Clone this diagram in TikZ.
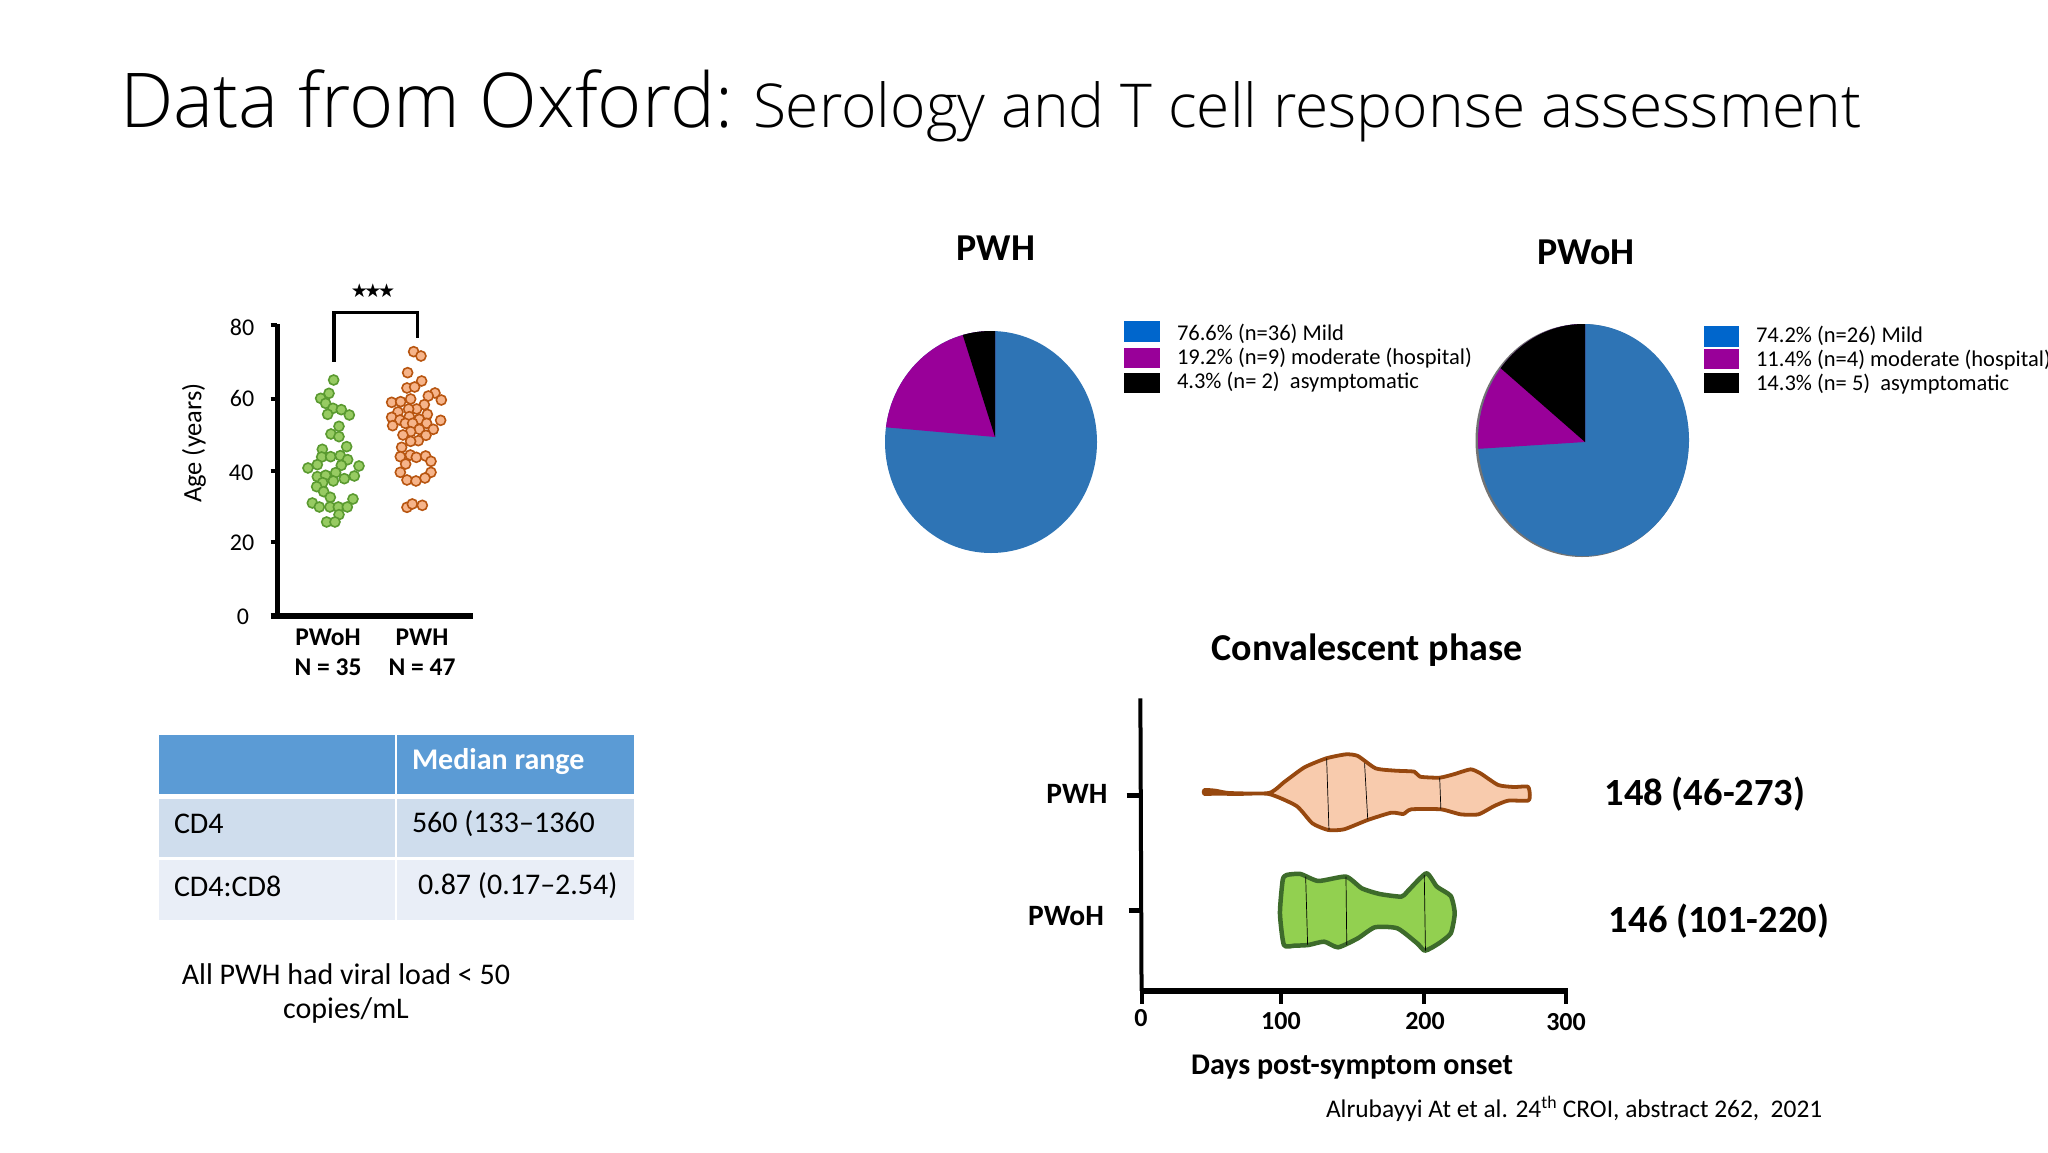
\documentclass[tikz,border=0pt]{standalone}
\usepackage{fontspec}
\setmainfont{Carlito}
\newfontfamily\symfont{DejaVu Sans}
\newfontfamily\lightfont{Open Sans Light}
\definecolor{pieblue}{HTML}{2E74B5}
\definecolor{legblue}{HTML}{0066CC}
\definecolor{piepurple}{HTML}{990099}
\definecolor{thead}{HTML}{5B9BD5}
\definecolor{trowa}{HTML}{CFDDED}
\definecolor{trowb}{HTML}{E9EEF7}
\definecolor{gfill}{HTML}{97CB62}
\definecolor{gline}{HTML}{5A9A30}
\definecolor{ofill}{HTML}{F6B48A}
\definecolor{oline}{HTML}{B85510}
\definecolor{vbrown}{HTML}{97480F}
\definecolor{vpeach}{HTML}{F8CBAD}
\definecolor{vgreen}{HTML}{92D050}
\definecolor{vdark}{HTML}{3D6B2B}
\newcommand{\fs}[2]{\fontsize{#1}{#2}\selectfont}
\tikzset{
  txt/.style={inner sep=0pt,outer sep=0pt},
  lab/.style={txt,font=\fs{24}{26}},
  blab/.style={txt,font=\fs{25.5}{28}\bfseries},
  vlab/.style={txt,font=\fs{29.5}{32}\bfseries},
  vnum/.style={txt,font=\fs{26}{28}\bfseries},
  leg/.style={txt,anchor=west,font=\fs{22.5}{24}},
  ptitle/.style={txt,font=\fs{38}{42}\bfseries},
  cell/.style={txt,anchor=west,font=\fs{30}{32}},
  gdot/.style={circle,draw=gline,fill=gfill,line width=1.6pt,inner sep=0pt,minimum size=10pt},
  odot/.style={circle,draw=oline,fill=ofill,line width=1.6pt,inner sep=0pt,minimum size=10pt},
}
\begin{document}
\begin{tikzpicture}[x=1pt,y=-1pt]
\useasboundingbox (0,0) rectangle (2048,1152);
\fill[white] (0,0) rectangle (2048,1152);
% title
\node[txt,anchor=base west,font=\lightfont\fs{75.6}{80},text=black] (t1) at (120,127) {Data from Oxford:};
\node[txt,anchor=base west,font=\lightfont\fs{60.5}{70},text=black] (t2) at (753,127) {Serology and T cell response assessment};

% dot plot
\begin{scope}[shift={(160,260)},x=0.3333pt,y=-0.3333pt]
\draw[line width=5.5pt] (352,192) -- (352,1068);
\draw[line width=6pt] (332,1068) -- (940,1068);
\foreach \yy in {195,418,632,845} \draw[line width=4pt] (332,\yy) -- (352,\yy);
\draw[line width=3.2pt] (522,305) -- (522,158) -- (773,158) -- (773,233);
\foreach \xx/\yy in {521/360,507/400,482/415,497/430,519/445,544/449,503/463,568/465,537/499,513/522,537/530,560/560,487/568,485/591,512/590,541/587,563/599,472/614,444/624,544/616,597/618,527/638,472/650,497/646,488/668,520/663,553/656,583/648,470/680,491/695,511/712,579/717,457/729,478/741,510/741,535/741,562/741,537/764,500/786,525/786}
  \node[gdot] at (\xx,\yy) {};
\foreach \xx/\yy in {761/275,783/288,743/338,785/363,741/384,764/381,825/399,805/408,752/417,844/420,695/427,722/425,793/434,770/447,746/447,714/456,802/463,695/472,748/470,720/480,778/478,842/481,800/490,736/490,758/490,698/497,778/508,820/508,752/515,729/525,798/526,775/542,752/544,725/562,721/590,751/585,769/592,797/588,813/604,737/612,721/637,813/637,795/654,741/660,768/663,741/742,757/732,787/736}
  \node[odot] at (\xx,\yy) {};
\end{scope}
\node[lab] (y80) at (242,327) {80};
\node[lab] (y60) at (242,398) {60};
\node[lab] (y40) at (241,473) {40};
\node[lab] (y20) at (242,543) {20};
\node[lab] (y0) at (243,617) {0};
\node[txt,font=\fs{26.5}{28},rotate=90] (yl) at (194,443) {Age (years)};
\node[blab] (g1) at (328,637) {PWoH};
\node[blab] (g2) at (328,667) {N = 35};
\node[blab] (g3) at (422,637) {PWH};
\node[blab] (g4) at (422,667) {N = 47};
\node[txt,font=\symfont\fs{19}{20}] (stars) at (373,291) {★\kern-3.5pt★\kern-3.5pt★};

% table
\fill[thead] (159,735) rectangle (395,794);
\fill[thead] (397,735) rectangle (634,794);
\fill[trowa] (159,799) rectangle (395,857);
\fill[trowa] (397,799) rectangle (634,857);
\fill[trowb] (159,860) rectangle (395,920);
\fill[trowb] (397,860) rectangle (634,920);
\node[cell,text=white,font=\fs{30}{32}\bfseries] (h2) at (412,762) {Median range};
\node[cell] (c1) at (174,824) {CD4};
\node[cell] (c2) at (412,824) {560 (133–1360};
\node[cell] (c3) at (174,886) {CD4:CD8};
\node[cell] (c4) at (418,886) {0.87 (0.17–2.54)};
\node[txt,font=\fs{30}{32}] (n1) at (346,974) {All PWH had viral load < 50};
\node[txt,font=\fs{30}{32}] (n2) at (346,1010) {copies/mL};

% pie PWH
\node[ptitle] (p1) at (996,248) {PWH};
\begin{scope}
\clip (991,442) ellipse [x radius=106pt,y radius=111pt];
\fill[pieblue] (880,325) rectangle (1100,560);
\fill[piepurple] (995,437) -- (860,425) -- (860,320) -- (995,320) -- cycle;
\fill[black] (995,437) -- (958,320) -- (995,320) -- cycle;
\end{scope}
\fill[legblue] (1124,321) rectangle (1160,342);
\fill[piepurple] (1124,348) rectangle (1160,368);
\fill[black] (1124,373) rectangle (1160,393);
\node[leg] (l1) at (1177,334) {76.6\% (n=36) Mild};
\node[leg] (l2) at (1177,358) {19.2\% (n=9) moderate (hospital)};
\node[leg] (l3) at (1177,382) {4.3\% (n= 2)\ \ asymptomatic};

% pie PWoH
\node[ptitle] (p2) at (1586,252) {PWoH};
\fill[black!55] (1582,440.5) ellipse [x radius=106.5pt,y radius=116.5pt];
\begin{scope}
\clip (1583.5,440) ellipse [x radius=105.5pt,y radius=116pt];
\fill[pieblue] (1470,320) rectangle (1695,560);
\fill[piepurple] (1585,442) -- (1460,450) -- (1460,320) -- (1585,320) -- cycle;
\fill[black] (1585,442) -- (1497,365) -- (1497,320) -- (1585,320) -- cycle;
\end{scope}
\fill[legblue] (1704,326) rectangle (1739,347);
\fill[piepurple] (1704,349) rectangle (1739,369);
\fill[black] (1704,373) rectangle (1739,393);
\node[leg] (l4) at (1756,336) {74.2\% (n=26) Mild};
\node[leg] (l5) at (1756,360) {11.4\% (n=4) moderate (hospital)};
\node[leg] (l6) at (1756,384) {14.3\% (n= 5)\ \ asymptomatic};

% violin
\node[ptitle] (vt) at (1367,650) {Convalescent phase};
\begin{scope}[shift={(1000,680)},x=0.3954pt,y=-0.3333pt]
\draw[line width=4pt] (355,55) -- (358,933);
\draw[line width=6pt] (355,933) -- (1437,933);
\foreach \xx in {358,710,1073,1432} \draw[line width=4pt] (\xx,933) -- (\xx,972);
\draw[line width=5pt] (320,347) -- (355,347);
\draw[line width=5pt] (325,691) -- (355,691);
\draw[draw=vbrown,fill=vpeach,line width=3.8pt,line join=round] plot[smooth cycle,tension=0.35] coordinates {(517,330) (545,332) (580,339) (680,339) (720,305) (770,262) (825,235) (875,223) (905,228) (950,265) (1000,272) (1048,275) (1062,290) (1112,293) (1150,282) (1190,268) (1215,280) (1260,315) (1300,321) (1335,320) (1340,345) (1335,362) (1285,362) (1250,378) (1210,403) (1165,403) (1115,388) (1040,388) (1020,402) (990,398) (930,420) (870,448) (830,450) (790,430) (750,378) (680,342) (600,342) (545,341) (517,342)};
\draw[line width=0.7pt] (826,235) -- (832,450);
\draw[line width=0.7pt] (922,250) -- (930,418);
\draw[line width=0.7pt] (1112,293) -- (1115,388);
\draw[draw=vdark,fill=vgreen,line width=4.5pt,line join=round] plot[smooth cycle,tension=0.35] coordinates {(715,600) (725,585) (760,582) (805,603) (875,590) (915,625) (960,642) (1015,650) (1030,635) (1078,580) (1105,620) (1140,648) (1150,700) (1140,760) (1110,790) (1075,812) (1055,790) (1005,745) (948,742) (905,775) (855,802) (820,785) (780,795) (745,797) (718,795) (708,700)};
\draw[line width=0.7pt] (773,590) -- (778,795);
\draw[line width=0.7pt] (875,590) -- (877,795);
\draw[line width=0.7pt] (1073,585) -- (1076,812);
\end{scope}
\node[vlab] (v1) at (1077,794) {PWH};
\node[vlab] (v2) at (1066,916) {PWoH};
\node[vnum] (x0) at (1141,1018) {0};
\node[vnum] (x1) at (1281,1021) {100};
\node[vnum] (x2) at (1425,1021) {200};
\node[vnum] (x3) at (1566,1022) {300};
\node[txt,font=\fs{30}{32}\bfseries] (xl) at (1352,1067) {Days post-symptom onset};
\node[txt,font=\fs{38.5}{42}\bfseries] (m1) at (1705,794) {148 (46-273)};
\node[txt,font=\fs{38.5}{42}\bfseries] (m2) at (1719,921) {146 (101-220)};
\node[txt,anchor=west,font=\fs{25.4}{28}] (cite) at (1326,1109) {Alrubayyi At et al. 24\textsuperscript{th} CROI, abstract 262,\ \ 2021};
\end{tikzpicture}
\end{document}
